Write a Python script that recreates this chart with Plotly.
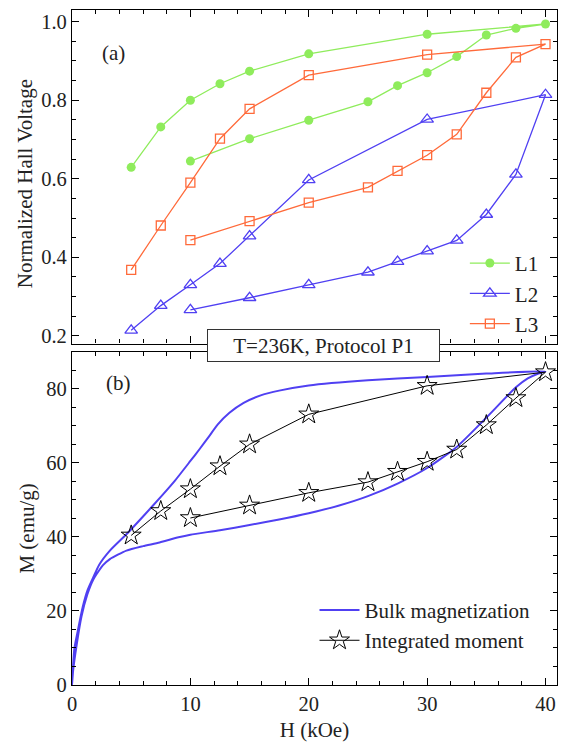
import plotly.graph_objects as go

# ---------------- data ----------------
# (a) Normalized Hall voltage: lower (increasing H) branch then upper (decreasing H) branch
h_hall = [10, 15, 20, 25, 27.5, 30, 32.5, 35, 37.5, 40, 30, 20, 15, 12.5, 10, 7.5, 5]
L1 = [0.645, 0.702, 0.749, 0.796, 0.837, 0.870, 0.911, 0.966, 0.983, 0.994,
      0.968, 0.918, 0.874, 0.842, 0.800, 0.732, 0.629]
L2 = [0.266, 0.297, 0.330, 0.362, 0.389, 0.416, 0.443, 0.509, 0.611, 0.814,
      0.751, 0.597, 0.454, 0.384, 0.330, 0.277, 0.214]
L3 = [0.444, 0.492, 0.539, 0.578, 0.620, 0.660, 0.713, 0.819, 0.909, 0.943,
      0.916, 0.864, 0.778, 0.702, 0.590, 0.481, 0.368]

# (b) integrated moment (stars)
h_int = [10, 15, 20, 25, 27.5, 30, 32.5, 35, 37.5, 40, 30, 20, 15, 12.5, 10, 7.5, 5]
m_int = [45.1, 48.5, 51.9, 54.8, 57.6, 60.3, 63.6, 70.2, 77.5, 84.5,
         80.8, 73.1, 65.0, 59.1, 52.9, 47.0, 40.4]

# (b) bulk magnetization loop: increasing branch then decreasing branch
h_bulk = [0, 0.1, 0.4, 0.8, 1.3, 1.8, 2.3, 2.6, 3.2, 4.6, 6, 7.4, 9, 10, 12.5, 15,
          17.5, 20, 22.5, 25, 27.5, 30, 32.5, 35, 37.5, 38.5, 39.3, 40,
          35, 30, 25, 20, 17.5, 16, 14.5, 13.3, 12.3, 11.5, 10.8, 10, 8.7, 7.5,
          6, 4.6, 3.2, 2.3, 1.8, 1.3, 0.9, 0.5, 0.2, 0]
m_bulk = [0, 4, 11, 18.5, 24.5, 28.5, 31, 32.3, 34, 36.3, 37.5, 38.5, 39.9, 40.6, 41.8, 43.2,
          44.7, 46.4, 48.4, 51.0, 54.4, 58.6, 64.3, 72.2, 80.4, 82.8, 84.0, 84.7,
          84.1, 83.2, 82.3, 80.9, 79.5, 78.3, 76.2, 73.5, 70.3, 66.8, 63.8, 60.5, 55.2, 50.8,
          45.5, 40.7, 36.3, 32.5, 29.1, 25.5, 21.0, 14.8, 9.8, 0]

x_ticks = [0, 10, 20, 30, 40]

FONT = "Liberation Serif"
GREEN = "#8fec5c"
BLUE = "#5040f2"
ORANGE = "#ff6a3a"

fig = go.Figure()

fig.add_trace(go.Scatter(x=h_hall, y=L1, name="L1", mode="lines+markers",
                         line=dict(color=GREEN, width=1.3),
                         marker=dict(symbol="circle", size=9, color=GREEN),
                         xaxis="x", yaxis="y", legend="legend"))
fig.add_trace(go.Scatter(x=h_hall, y=L2, name="L2", mode="lines+markers",
                         line=dict(color=BLUE, width=1.3),
                         marker=dict(symbol="triangle-up-open", size=11, color=BLUE,
                                     line=dict(width=1.3)),
                         xaxis="x", yaxis="y", legend="legend"))
fig.add_trace(go.Scatter(x=h_hall, y=L3, name="L3", mode="lines+markers",
                         line=dict(color=ORANGE, width=1.3),
                         marker=dict(symbol="square-open", size=9, color=ORANGE,
                                     line=dict(width=1.3)),
                         xaxis="x", yaxis="y", legend="legend"))

fig.add_trace(go.Scatter(x=h_bulk, y=m_bulk, name="Bulk magnetization", mode="lines",
                         line=dict(color=BLUE, width=2, shape="spline", smoothing=0.6),
                         xaxis="x2", yaxis="y2", legend="legend2"))
fig.add_trace(go.Scatter(x=h_int, y=m_int, name="Integrated moment", mode="lines+markers",
                         line=dict(color="black", width=1),
                         marker=dict(symbol="star-open", size=15, color="black",
                                     line=dict(width=1)),
                         xaxis="x2", yaxis="y2", legend="legend2"))

axis_common = dict(showline=True, linecolor="black", linewidth=1.3, mirror="allticks",
                   ticks="inside", ticklen=7, tickwidth=1.2, tickcolor="black",
                   showgrid=False, zeroline=False,
                   tickfont=dict(family=FONT, size=20.5, color="#222"))

fig.update_layout(
    width=563, height=742,
    margin=dict(l=72, r=5, t=10, b=54),
    paper_bgcolor="white", plot_bgcolor="white",
    font=dict(family=FONT, size=21, color="#222"),
    xaxis=dict(**axis_common, anchor="y", range=[0, 40.97], tickvals=x_ticks,
               showticklabels=False,
               minor=dict(dtick=2, ticks="inside", ticklen=4, tickcolor="black", showgrid=False)),
    yaxis=dict(**axis_common, domain=[0.5059, 1], range=[0.1805, 1.0297], dtick=0.2, tick0=0,
               tickformat=".1f",
               minor=dict(dtick=0.05, tick0=0, ticks="inside", ticklen=4, tickcolor="black",
                          showgrid=False)),
    xaxis2=dict(**axis_common, anchor="y2", range=[0, 40.97], tickvals=x_ticks,
                minor=dict(dtick=2, ticks="inside", ticklen=4, tickcolor="black", showgrid=False),
                title=dict(text="H (kOe)", font=dict(family=FONT, size=21), standoff=8)),
    yaxis2=dict(**axis_common, domain=[0, 0.4937], range=[0, 90], dtick=20,
                minor=dict(dtick=5, ticks="inside", ticklen=4, tickcolor="black", showgrid=False)),
    legend=dict(x=0.81, y=0.655, xanchor="left", yanchor="top", bgcolor="rgba(0,0,0,0)",
                font=dict(family=FONT, size=21), itemwidth=40, tracegroupgap=0),
    legend2=dict(x=0.50, y=0.141, xanchor="left", yanchor="top", bgcolor="rgba(0,0,0,0)",
                 font=dict(family=FONT, size=21), itemwidth=40),
    showlegend=True,
    annotations=[
        dict(text="Normalized Hall Voltage", textangle=-90, x=-0.097, y=0.7434,
             xref="paper", yref="paper", showarrow=False, xanchor="center", yanchor="middle",
             font=dict(family=FONT, size=21)),
        dict(text="M (emu/g)", textangle=-90, x=-0.093, y=0.2316,
             xref="paper", yref="paper", showarrow=False, xanchor="center", yanchor="middle",
             font=dict(family=FONT, size=21)),
        dict(text="(a)", x=0.058, y=0.957, xref="paper", yref="paper", showarrow=False,
             font=dict(family=FONT, size=21)),
        dict(text="(b)", x=0.066, y=0.448, xref="paper", yref="paper", showarrow=False,
             font=dict(family=FONT, size=21)),
        dict(text="T=236K, Protocol P1", x=0.5185, y=0.5034, xref="paper", yref="paper",
             showarrow=False, bgcolor="white", bordercolor="#333", borderwidth=1,
             width=229, height=29, borderpad=1, font=dict(family=FONT, size=21)),
    ],
)

fig.write_html("out.html")
